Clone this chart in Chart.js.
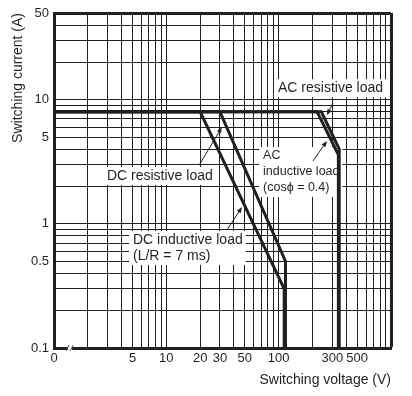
<!DOCTYPE html>
<html>
<head>
<meta charset="utf-8">
<script src="https://cdn.jsdelivr.net/npm/chart.js@4.4.1/dist/chart.umd.min.js"></script>
<style>
  html, body { margin: 0; padding: 0; background: #fff; }
  #wrap { width: 412px; height: 396px; position: relative; }
</style>
</head>
<body>
<div id="wrap"><canvas id="c"></canvas></div>
<script>
// ---- data (switching voltage V, switching current A) ----
const dcInductiveV = [1, 20, 112, 112];
const dcInductiveA = [8, 8, 0.3, 0.1];
const dcResistiveV = [1, 30, 115, 115];
const dcResistiveA = [8, 8, 0.5, 0.1];
const acInductiveV = [1, 220, 340, 340];
const acInductiveA = [8, 8, 3.6, 0.1];
const acResistiveV = [1, 240, 346, 346];
const acResistiveA = [8, 8, 4, 0.1];

// ---- axes ----
const xGridValues = [1,2,3,4,5,6,7,8,9,10,20,30,40,50,60,70,80,90,100,200,300,400,500,600,700,800,900,1000];
const yGridValues = [0.1,0.2,0.3,0.4,0.5,0.6,0.7,0.8,0.9,1,2,3,4,5,6,7,8,9,10,20,30,40,50];
const xTickValues = [1, 5, 10, 20, 30, 50, 100, 300, 500];
const xTickLabels = ['0', '5', '10', '20', '30', '50', '100', '300', '500'];
const yTickValues = [0.1, 0.5, 1, 5, 10, 50];
const yTickLabels = ['0.1', '0.5', '1', '5', '10', '50'];

// ---- annotations (anchor positions in data units) ----
const noteTexts = [
  ['AC resistive load'],
  ['AC', 'inductive load', '(cos\u03d5 = 0.4)'],
  ['DC resistive load'],
  ['DC inductive load', '(L/R = 7 ms)']
];
const noteFontSizes = [14, 12.5, 14, 14];
const noteLineHeights = [16, 16, 16, 16];
const noteAnchorV = [98.6, 72.6, 2.96, 5.05];
const noteAnchorA = [12.4, 3.52, 2.43, 0.742];
const arrowTailV = [304, 202, 19.9, 34.7];
const arrowTailA = [9.4, 3.21, 3.04, 0.893];
const arrowTipV  = [269, 269, 31.3, 47.2];
const arrowTipA  = [7.5, 4.66, 6.04, 1.37];
const breakMarkV = 1.39;

const INK = '#231f20';
const FONT = '"Liberation Sans", Arial, Helvetica, sans-serif';

function pts(xs, ys) { return xs.map((x, i) => ({ x: x, y: ys[i] })); }
function ds(xs, ys) {
  return { data: pts(xs, ys), showLine: true, borderColor: INK, borderWidth: 3,
           pointRadius: 0, fill: false, tension: 0, borderJoinStyle: 'miter' };
}

const annotate = {
  id: 'annotate',
  beforeDatasetsDraw(chart) {
    const ctx = chart.ctx, xs = chart.scales.x, ys = chart.scales.y;
    ctx.save();
    ctx.textBaseline = 'middle';
    ctx.textAlign = 'left';
    noteTexts.forEach((lines, i) => {
      const fs = noteFontSizes[i];
      ctx.font = fs + 'px ' + FONT;
      const lh = noteLineHeights[i];
      const x = xs.getPixelForValue(noteAnchorV[i]);
      const y = ys.getPixelForValue(noteAnchorA[i]);
      const w = Math.max(...lines.map(t => ctx.measureText(t).width));
      ctx.fillStyle = '#fff';
      ctx.fillRect(x - 4, y - 9, w + 7, (lines.length - 1) * lh + 18);
      ctx.fillStyle = INK;
      lines.forEach((t, k) => ctx.fillText(t, x, y + k * lh));
    });
    // axis break mark
    const bx = xs.getPixelForValue(breakMarkV);
    const by = chart.chartArea.bottom;
    ctx.fillStyle = '#fff';
    ctx.fillRect(bx - 2, by - 2, 4, 4);
    ctx.strokeStyle = '#555';
    ctx.lineWidth = 1;
    ctx.beginPath();
    ctx.moveTo(bx - 4, by + 3); ctx.lineTo(bx - 1, by - 3);
    ctx.moveTo(bx + 0, by + 3); ctx.lineTo(bx + 3, by - 3);
    ctx.stroke();
    ctx.restore();
  },
  afterDatasetsDraw(chart) {
    const ctx = chart.ctx, xs = chart.scales.x, ys = chart.scales.y;
    ctx.save();
    ctx.strokeStyle = INK; ctx.fillStyle = INK; ctx.lineWidth = 1;
    arrowTailV.forEach((v, i) => {
      const x0 = xs.getPixelForValue(v), y0 = ys.getPixelForValue(arrowTailA[i]);
      const x1 = xs.getPixelForValue(arrowTipV[i]), y1 = ys.getPixelForValue(arrowTipA[i]);
      const a = Math.atan2(y1 - y0, x1 - x0);
      const L = 6, W = 2.3;
      const bxp = x1 - L * Math.cos(a), byp = y1 - L * Math.sin(a);
      ctx.beginPath(); ctx.moveTo(x0, y0); ctx.lineTo(bxp, byp); ctx.stroke();
      ctx.beginPath();
      ctx.moveTo(x1, y1);
      ctx.lineTo(bxp + W * Math.sin(a), byp - W * Math.cos(a));
      ctx.lineTo(bxp - W * Math.sin(a), byp + W * Math.cos(a));
      ctx.closePath(); ctx.fill();
    });
    ctx.restore();
  }
};

new Chart(document.getElementById('c'), {
  type: 'scatter',
  data: {
    datasets: [
      ds(dcInductiveV, dcInductiveA),
      ds(dcResistiveV, dcResistiveA),
      ds(acInductiveV, acInductiveA),
      ds(acResistiveV, acResistiveA)
    ]
  },
  options: {
    responsive: true,
    maintainAspectRatio: false,
    animation: false,
    layout: { padding: { left: 0, top: 13, right: 21, bottom: 0 } },
    plugins: { legend: { display: false }, tooltip: { enabled: false } },
    scales: {
      x: {
        type: 'logarithmic', min: 1, max: 1000,
        afterBuildTicks: s => { s.ticks = xGridValues.map(v => ({ value: v })); },
        afterFit: s => { s.height = 48; },
        ticks: {
          autoSkip: false, maxRotation: 0, minRotation: 0, padding: 3,
          color: INK, font: { family: FONT, size: 13 },
          callback: v => { const k = xTickValues.indexOf(v); return k >= 0 ? xTickLabels[k] : ''; }
        },
        grid: { color: INK, drawTicks: false, lineWidth: c => (c.tick && c.tick.value === 1000 ? 3 : 1) },
        border: { display: true, color: INK, width: 3 },
        title: { display: true, text: 'Switching voltage (V)', align: 'end', color: INK,
                 font: { family: FONT, size: 14 }, padding: { top: 0, bottom: 7 } }
      },
      y: {
        type: 'logarithmic', min: 0.1, max: 50,
        afterBuildTicks: s => { s.ticks = yGridValues.map(v => ({ value: v })); },
        afterFit: s => { s.width = 54; },
        ticks: {
          autoSkip: false, padding: 5,
          color: INK, font: { family: FONT, size: 13 },
          callback: v => { const k = yTickValues.indexOf(v); return k >= 0 ? yTickLabels[k] : ''; }
        },
        grid: { color: INK, drawTicks: false, lineWidth: c => (c.tick && c.tick.value === 50 ? 3 : 1) },
        border: { display: true, color: INK, width: 3 },
        title: { display: true, text: 'Switching current (A)', align: 'end', color: INK,
                 font: { family: FONT, size: 14 }, padding: { top: 10, bottom: 0 } }
      }
    }
  },
  plugins: [annotate]
});
</script>
</body>
</html>
